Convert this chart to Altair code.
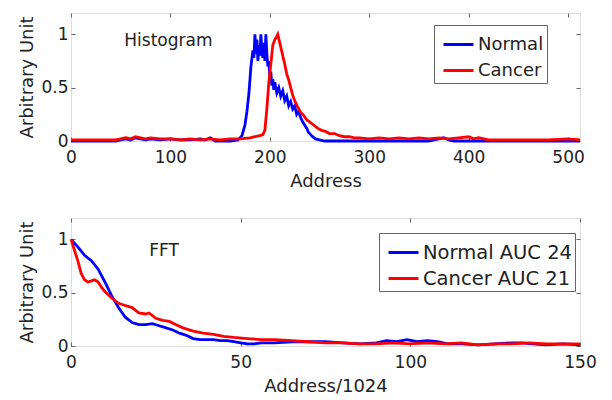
import altair as alt
import pandas as pd

# ---------------- data ----------------
hist_normal_x = [0, 45, 50, 55, 60, 65, 70, 75, 80, 90, 100, 110, 120, 130, 135, 140, 145, 160, 168, 172,
                 175, 177, 179, 181, 183, 184, 185, 186, 187, 188, 189, 190, 191, 192, 193, 194, 195, 196,
                 197, 198, 199, 200, 201, 202, 203, 204, 205, 207, 209, 211, 213, 215, 217, 219, 221, 223,
                 225, 227, 229, 231, 233, 235, 237, 239, 241, 243, 246, 250, 255, 360, 365, 370, 375, 380,
                 385, 512]
hist_normal_y = [0, 0, 0.01, 0.02, 0.01, 0.03, 0.02, 0.01, 0.02, 0.01, 0.02, 0.01, 0.01, 0.02, 0.01, 0.03, 0.0,
                 0.0, 0.01, 0.05, 0.15, 0.28, 0.45, 0.7, 0.85, 0.78, 1.0, 0.82, 0.95, 0.75, 0.9, 0.8, 1.0, 0.85,
                 0.78, 0.92, 0.75, 1.0, 0.82, 0.7, 0.75, 0.6, 0.65, 0.52, 0.58, 0.48, 0.55, 0.45, 0.5, 0.42,
                 0.47, 0.38, 0.42, 0.33, 0.37, 0.3, 0.33, 0.25, 0.28, 0.22, 0.18, 0.15, 0.12, 0.08, 0.06, 0.04,
                 0.02, 0.01, 0, 0, 0.01, 0.02, 0.03, 0.01, 0, 0]

hist_cancer_x = [0, 45, 50, 55, 60, 65, 70, 75, 80, 90, 100, 110, 120, 130, 140, 150, 160, 170, 180, 185, 190,
                 193, 195, 197, 199, 201, 203, 205, 207, 208, 209, 211, 213, 215, 217, 219, 221, 223, 225,
                 228, 231, 234, 237, 240, 244, 248, 252, 256, 260, 265, 270, 275, 280, 285, 290, 300, 310,
                 320, 330, 340, 350, 360, 370, 380, 390, 400, 405, 410, 420, 440, 460, 480, 500, 512]
hist_cancer_y = [0.01, 0.01, 0.02, 0.03, 0.02, 0.04, 0.03, 0.02, 0.03, 0.02, 0.02, 0.01, 0.02, 0.01, 0.02, 0.01,
                 0.02, 0.02, 0.03, 0.04, 0.05, 0.06, 0.1, 0.3, 0.55, 0.72, 0.9, 0.95, 0.98, 1.0, 0.96, 0.88,
                 0.8, 0.72, 0.63, 0.57, 0.5, 0.43, 0.38, 0.32, 0.27, 0.24, 0.2, 0.18, 0.15, 0.12, 0.1, 0.09,
                 0.07, 0.07, 0.05, 0.04, 0.04, 0.03, 0.03, 0.02, 0.03, 0.02, 0.03, 0.02, 0.03, 0.02, 0.03,
                 0.02, 0.03, 0.04, 0.02, 0.03, 0.01, 0.01, 0.01, 0.01, 0.02, 0.01]

fft_normal_x = [0, 2, 4, 6, 8, 10, 12, 14, 16, 18, 20, 22, 24, 26, 28, 30, 32, 34, 36, 38, 40, 42, 44, 46, 48,
                50, 52, 54, 56, 60, 65, 70, 75, 80, 85, 90, 93, 96, 99, 102, 105, 108, 111, 115, 120, 125,
                130, 133, 136, 140, 145, 150]
fft_normal_y = [1.0, 0.93, 0.85, 0.8, 0.72, 0.6, 0.47, 0.36, 0.27, 0.22, 0.2, 0.2, 0.21, 0.19, 0.17, 0.15,
                0.12, 0.1, 0.07, 0.06, 0.06, 0.06, 0.05, 0.05, 0.04, 0.03, 0.02, 0.02, 0.03, 0.03, 0.04,
                0.04, 0.04, 0.03, 0.02, 0.03, 0.05, 0.04, 0.06, 0.04, 0.05, 0.04, 0.02, 0.02, 0.01, 0.02,
                0.03, 0.03, 0.02, 0.01, 0.02, 0.01]

fft_cancer_x = [0, 1, 2, 3, 4, 5, 6, 7, 8, 9, 10, 12, 14, 16, 18, 20, 22, 23, 25, 27, 29, 31, 33, 36, 39, 42,
                45, 48, 52, 56, 60, 65, 70, 75, 80, 85, 90, 95, 100, 105, 110, 115, 120, 125, 130, 135, 140,
                145, 150]
fft_cancer_y = [1.0, 0.9, 0.8, 0.68, 0.62, 0.6, 0.61, 0.62, 0.6, 0.55, 0.51, 0.45, 0.4, 0.38, 0.36, 0.31, 0.3,
                0.31, 0.26, 0.24, 0.23, 0.2, 0.17, 0.14, 0.12, 0.11, 0.09, 0.08, 0.07, 0.06, 0.06, 0.05,
                0.04, 0.03, 0.03, 0.02, 0.02, 0.03, 0.02, 0.03, 0.02, 0.03, 0.01, 0.02, 0.02, 0.03, 0.02,
                0.02, 0.02]

hist_labels = ["Normal", "Cancer"]
fft_labels = ["Normal AUC 24", "Cancer AUC 21"]
line_colors = ["#0000ff", "#ff0000"]

hist_ticks = [0, 100, 200, 300, 400, 500]
fft_ticks = [0, 50, 100, 150]
y_ticks = [0, 0.5, 1]

FONT = "DejaVu Sans"
FRAME = "#666666"
W, H = 509, 128


def panel(nx, ny, cx, cy, labels, xmax, xticks, xtitle, note, note_x, note_y, leg_x, leg_y, leg_fs):
    d_n = pd.DataFrame({"x": nx, "y": ny, "s": labels[0]})
    d_c = pd.DataFrame({"x": cx, "y": cy, "s": labels[1]})
    xs = alt.Scale(domain=[0, xmax], nice=False, zero=False)
    ys = alt.Scale(domain=[0, 1.2], nice=False)
    cs = alt.Scale(domain=labels, range=line_colors)

    main_x = alt.Axis(values=xticks, title=xtitle, orient="bottom", ticks=False, domain=False, grid=False,
                      labelFlush=False, labelFontSize=17, labelFont=FONT, labelColor="#222",
                      labelPadding=8, titleFont=FONT, titleFontSize=18, titleFontWeight="normal",
                      titleColor="#222", titlePadding=7)
    main_y = alt.Axis(values=y_ticks, format="~g", title="Arbitrary Unit", orient="left", ticks=False,
                      domain=False, grid=False, labelFontSize=17, labelFont=FONT, labelColor="#222",
                      labelPadding=3, titleFont=FONT, titleFontSize=18, titleFontWeight="normal",
                      titleColor="#222", titlePadding=4)

    legend = alt.Legend(title=None, orient="none", legendX=leg_x, legendY=leg_y, symbolType="stroke",
                        symbolSize=900, symbolStrokeWidth=3, labelFontSize=leg_fs, labelFont=FONT,
                        labelColor="#222", strokeColor=FRAME, fillColor="white", padding=3,
                        rowPadding=-2, labelOffset=3, symbolOffset=5, labelLimit=300)

    normal = alt.Chart(d_n).mark_line(strokeWidth=2.8).encode(
        x=alt.X("x:Q", scale=xs, axis=main_x),
        y=alt.Y("y:Q", scale=ys, axis=main_y),
        color=alt.Color("s:N", scale=cs, legend=legend),
    )
    cancer = alt.Chart(d_c).mark_line(strokeWidth=2.8).encode(
        x=alt.X("x:Q", scale=xs, axis=None),
        y=alt.Y("y:Q", scale=ys, axis=None),
        color=alt.Color("s:N", scale=cs, legend=legend),
    )

    def tick_axis(orient, vals):
        return alt.Axis(values=vals, orient=orient, offset=-4, tickSize=4, tickColor=FRAME, labels=False,
                        domain=False, grid=False, title=None)

    ticks_a = alt.Chart(d_n).mark_line(strokeOpacity=0).encode(
        x=alt.X("x:Q", scale=xs, axis=tick_axis("bottom", xticks)),
        y=alt.Y("y:Q", scale=ys, axis=tick_axis("left", y_ticks)),
    )
    ticks_b = alt.Chart(d_n).mark_line(strokeOpacity=0).encode(
        x=alt.X("x:Q", scale=xs, axis=tick_axis("top", xticks)),
        y=alt.Y("y:Q", scale=ys, axis=tick_axis("right", y_ticks)),
    )

    txt = alt.Chart(pd.DataFrame({"x": [note_x], "y": [note_y], "t": [note]})).mark_text(
        font=FONT, fontSize=17, color="#222"
    ).encode(
        x=alt.X("x:Q", scale=xs, axis=None),
        y=alt.Y("y:Q", scale=ys, axis=None),
        text="t:N",
    )

    return alt.layer(normal, cancer, ticks_a, ticks_b, txt).resolve_axis(
        x="independent", y="independent"
    ).properties(width=W, height=H)


top = panel(hist_normal_x, hist_normal_y, hist_cancer_x, hist_cancer_y, hist_labels, 512, hist_ticks,
            "Address", "Histogram", 98, 0.935, 363, 12, 18)
bottom = panel(fft_normal_x, fft_normal_y, fft_cancer_x, fft_cancer_y, fft_labels, 150, fft_ticks,
               "Address/1024", "FFT", 27.4, 0.89, 308, 15, 19.5)

chart = alt.vconcat(top, bottom, spacing=26).resolve_scale(color="independent").properties(
    padding={"left": 10, "top": 4, "right": 0, "bottom": 0}
).configure_view(stroke=FRAME, strokeWidth=1).configure(background="white")

chart.save("out.html", embed_options={"renderer": "svg", "actions": False})
